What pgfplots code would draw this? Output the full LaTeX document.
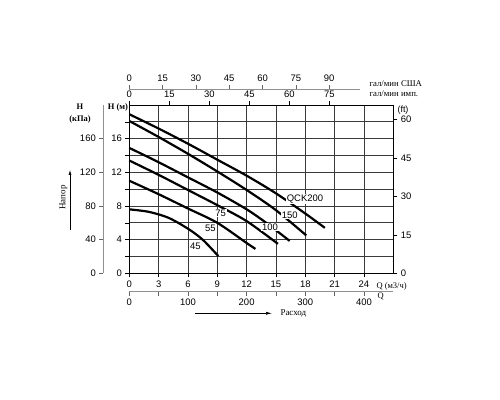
\documentclass[border=0pt]{standalone}
\usepackage{pgfplots}
\pgfplotsset{compat=1.18}
\usepackage{fontspec}
\setmainfont{Liberation Sans}
\newfontfamily\serif{Liberation Serif}
\usetikzlibrary{arrows.meta}
\definecolor{gridc}{HTML}{3A3A3A}
\definecolor{axg}{HTML}{909090}
\pgfplotsset{
  every axis/.append style={
    scale only axis,
    anchor=south west,
    tick label style={font=\fontsize{9.5}{11}\selectfont},
    /pgf/number format/assume math mode=true,
    tick align=outside,
    major tick length=4bp,
    minor tick length=4bp,
  }
}
\begin{document}
\begin{tikzpicture}
\path[use as bounding box,fill=white] (0bp,0bp) rectangle (500bp,400bp);
% main axis (H in m, Q in m3/h)
\begin{axis}[at={(129.3bp,126.7bp)}, width=264bp, height=168.3bp,
  xmin=0,xmax=27,ymin=0,ymax=20,
  xtick={0,3,...,24}, ytick={0,4,...,16}, minor ytick={2,6,...,18},
  grid=both,
  major grid style={gridc,line width=0.8pt},
  minor grid style={gridc,line width=0.8pt},
  tick pos=left,
  axis line style={black,line width=0.8pt},
  every tick/.style={black,line width=0.6pt},
  clip=false]
\addplot[black,line width=2.2bp,smooth] coordinates {(0,18.9)(3,17.2)(6,15.4)(9,13.5)(12,11.6)(15,9.5)(18,7.1)(20,5.4)};
\addplot[black,line width=2.2bp,smooth] coordinates {(0,18.1)(3,16.2)(6,14.2)(9,12.1)(12,9.9)(15,7.5)(18.1,4.5)};
\addplot[black,line width=2.2bp,smooth] coordinates {(0,14.9)(3,13.2)(6,11.4)(9,9.6)(12,7.6)(14,6.0)(16.4,3.85)};
\addplot[black,line width=2.2bp,smooth] coordinates {(0,13.4)(3,11.7)(6,9.9)(9,8.1)(12,6.2)(15.2,3.5)};
\addplot[black,line width=2.2bp,smooth] coordinates {(0,11.0)(3,9.4)(6,7.7)(9,6.0)(12,3.6)(12.9,2.9)};
\addplot[black,line width=2.2bp,smooth] coordinates {(0,7.6)(2,7.3)(4,6.6)(6,5.3)(7.5,4.0)(9.1,2.05)};
\begin{scope}[every node/.style={fill=white,inner sep=0.8pt,font=\fontsize{9.5}{11}\selectfont}]
\node at (axis cs:17.97,8.84) {QCK200};
\node at (axis cs:16.4,6.9) {150};
\node at (axis cs:14.4,5.5) {100};
\node at (axis cs:9.33,7.17) {75};
\node at (axis cs:8.3,5.4) {55};
\node at (axis cs:6.76,3.2) {45};
\end{scope}
\end{axis}
% right ft axis
\begin{axis}[at={(129.3bp,126.7bp)}, width=264bp, height=168.3bp,
  xmin=0,xmax=27,ymin=0,ymax=65.617,
  axis x line=none, axis y line*=right,
  ytick={0,15,...,60},
  axis line style={black,line width=0.8pt},
  every tick/.style={black,line width=0.6pt}]
\end{axis}
% imperial gpm axis (top border)
\begin{axis}[at={(129.3bp,126.7bp)}, width=264bp, height=168.3bp,
  xmin=0,xmax=98.986,ymin=0,ymax=1,
  axis y line=none, axis x line*=top,
  xtick={0,15,...,75},
  axis line style={black,line width=0.8pt},
  every tick/.style={black,line width=0.6pt}]
\end{axis}
% US gpm axis
\begin{axis}[at={(129.3bp,300.7bp)}, width=230.7bp, height=10bp,
  xmin=0,xmax=103.9,ymin=0,ymax=1,
  axis y line=none, axis x line*=top,
  xtick={0,15,...,90},
  axis line style={axg,line width=0.8pt},
  every tick/.style={axg!70!black,line width=0.6pt}]
\end{axis}
% l/min axis
\begin{axis}[at={(129.3bp,108.3bp)}, width=264bp, height=10bp,
  xmin=0,xmax=450,ymin=0,ymax=1,
  axis y line=none, axis x line*=bottom,
  xtick={0,100,...,400}, minor xtick={50,150,250,350},
  axis line style={axg,line width=0.8pt},
  every tick/.style={axg!70!black,line width=0.6pt}]
\end{axis}
% kPa axis
\begin{axis}[at={(103.3bp,126.7bp)}, width=5bp, height=168.3bp,
  xmin=0,xmax=1,ymin=0,ymax=200,
  axis x line=none, axis y line*=left,
  ytick={0,40,...,160},
  axis line style={axg,line width=0.8pt},
  every tick/.style={axg!70!black,line width=0.6pt}]
\end{axis}
% texts
\node[font=\serif\bfseries\fontsize{8.5}{12}\selectfont,align=center] at (80bp,286.7bp) {H\\(кПа)};
\node[font=\serif\bfseries\fontsize{8.5}{10}\selectfont,fill=white,inner sep=0.5pt] at (118bp,292.7bp) {H (м)};
\node[font=\fontsize{9}{10}\selectfont] at (403bp,290bp) {(ft)};
\node[font=\serif\fontsize{8.8}{9}\selectfont,anchor=west] at (366bp,316bp) {гал/мин США};
\node[font=\serif\fontsize{8.8}{9}\selectfont,anchor=west] at (366bp,306bp) {гал/мин имп.};
\node[font=\serif\fontsize{9}{10}\selectfont,rotate=90] at (63.5bp,202.5bp) {Напор};
\draw[-{Latex[length=5bp,width=3bp]},line width=0.6pt] (70bp,170bp) -- (70bp,230bp);
\draw[-{Latex[length=6bp,width=3bp]},line width=0.6pt] (195bp,86.7bp) -- (272bp,86.7bp);
\node[font=\serif\fontsize{9}{10}\selectfont,anchor=west] at (277bp,87bp) {Расход};
\node[font=\serif\fontsize{8.5}{10}\selectfont,anchor=west] at (373bp,113.3bp) {Q (м3/ч)};
\node[font=\serif\fontsize{8.5}{10}\selectfont,anchor=west] at (374bp,103.3bp) {Q};
\end{tikzpicture}
\end{document}
